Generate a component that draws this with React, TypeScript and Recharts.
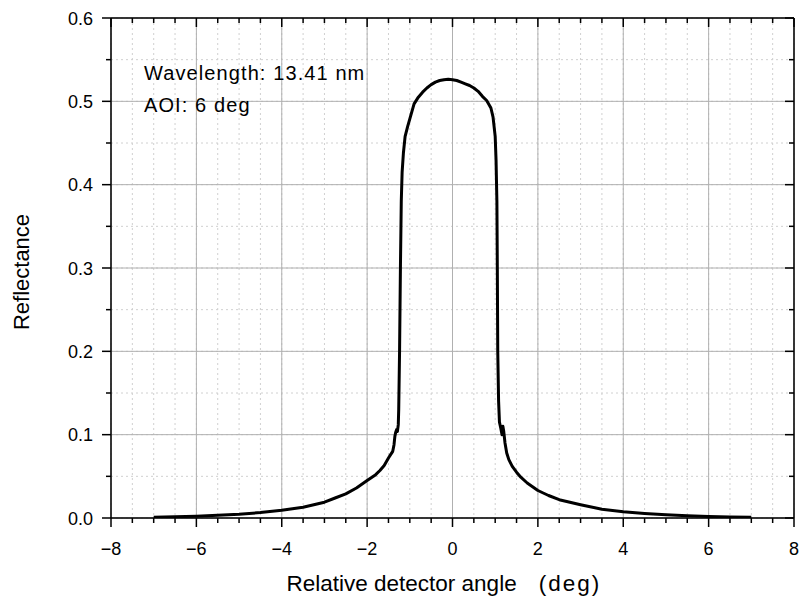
import React from 'react';
import { LineChart, Line, XAxis, YAxis, CartesianGrid } from 'recharts';

// relative detector angle (deg)
const angle = [
  -7.0, -6.5, -6.0, -5.5, -5.0, -4.5, -4.0, -3.5, -3.0, -2.75, -2.5, -2.25, -2.0, -1.8, -1.7,
  -1.6, -1.5, -1.45, -1.4, -1.37, -1.35, -1.33, -1.31, -1.29, -1.27, -1.26, -1.24, -1.22,
  -1.2, -1.18, -1.15, -1.11, -1.05, -1.0, -0.95, -0.9, -0.8, -0.7, -0.6, -0.5, -0.4, -0.3,
  -0.2, -0.1, 0.0, 0.1, 0.2, 0.3, 0.4, 0.5, 0.6, 0.7, 0.8, 0.9, 0.95, 1.0, 1.02, 1.04, 1.05,
  1.06, 1.08, 1.1, 1.13, 1.16, 1.18, 1.2, 1.23, 1.27, 1.32, 1.4, 1.5, 1.6, 1.75, 2.0, 2.25,
  2.5, 2.75, 3.0, 3.5, 4.0, 4.5, 5.0, 5.5, 6.0, 6.5, 7.0,
];

// measured reflectance
const reflectance = [
  0.001, 0.0015, 0.0022, 0.0032, 0.0045, 0.0065, 0.0092, 0.013, 0.019, 0.024, 0.029, 0.036,
  0.045, 0.052, 0.057, 0.063, 0.072, 0.076, 0.08, 0.088, 0.098, 0.103, 0.106, 0.104, 0.112,
  0.13, 0.2, 0.3, 0.38, 0.415, 0.438, 0.458, 0.47, 0.479, 0.488, 0.497, 0.505, 0.511, 0.516,
  0.52, 0.523, 0.525, 0.526, 0.5265, 0.526, 0.525, 0.523, 0.521, 0.519, 0.516, 0.512, 0.506,
  0.501, 0.492, 0.481, 0.458, 0.43, 0.38, 0.3, 0.2, 0.14, 0.115, 0.108, 0.1, 0.11, 0.104,
  0.09, 0.078, 0.07, 0.062, 0.055, 0.049, 0.042, 0.033, 0.027, 0.022, 0.019, 0.016, 0.0105,
  0.0075, 0.0054, 0.0038, 0.0027, 0.0019, 0.0013, 0.0009,
];

const majorX = [-8, -6, -4, -2, 0, 2, 4, 6, 8];
const minorX = [
  -8, -7.5, -7, -6.5, -6, -5.5, -5, -4.5, -4, -3.5, -3, -2.5, -2, -1.5, -1, -0.5, 0,
  0.5, 1, 1.5, 2, 2.5, 3, 3.5, 4, 4.5, 5, 5.5, 6, 6.5, 7, 7.5, 8,
];
const majorY = [0, 0.1, 0.2, 0.3, 0.4, 0.5, 0.6];
const minorY = [0, 0.05, 0.1, 0.15, 0.2, 0.25, 0.3, 0.35, 0.4, 0.45, 0.5, 0.55, 0.6];

const annotation = ['Wavelength: 13.41 nm', 'AOI: 6 deg'];

const data = angle.map((a, i) => ({ angle: a, r: reflectance[i] }));

const FONT = '"Liberation Sans", Arial, sans-serif';
const MAJOR_LEN = 9;
const MINOR_LEN = 5;

const fmtX = (v: number) => (v < 0 ? `\u2212${Math.abs(v)}` : `${v}`);

function BottomTick({ x, y, payload }: any) {
  const major = majorX.includes(payload.value);
  return (
    <g>
      <line x1={x} x2={x} y1={y} y2={y + (major ? MAJOR_LEN : MINOR_LEN)} stroke="#000" strokeWidth={1.5} />
      {major && (
        <text x={x} y={y + 37} textAnchor="middle" fontSize={18} fontFamily={FONT} fill="#000">
          {fmtX(payload.value)}
        </text>
      )}
    </g>
  );
}

function TopTick({ x, y, payload }: any) {
  const major = majorX.includes(payload.value);
  return <line x1={x} x2={x} y1={y} y2={y + (major ? MAJOR_LEN : MINOR_LEN)} stroke="#000" strokeWidth={1.5} />;
}

function LeftTick({ x, y, payload }: any) {
  const major = majorY.includes(payload.value);
  return (
    <g>
      <line x1={x - (major ? MAJOR_LEN : MINOR_LEN)} x2={x} y1={y} y2={y} stroke="#000" strokeWidth={1.5} />
      {major && (
        <text x={x - 18} y={y + 6.5} textAnchor="end" fontSize={18} fontFamily={FONT} fill="#000">
          {payload.value.toFixed(1)}
        </text>
      )}
    </g>
  );
}

function RightTick({ x, y, payload }: any) {
  const major = majorY.includes(payload.value);
  return <line x1={x - (major ? MAJOR_LEN : MINOR_LEN)} x2={x} y1={y} y2={y} stroke="#000" strokeWidth={1.5} />;
}

export default function App() {
  return (
    <div style={{ position: 'absolute', left: 0, top: 0, width: 803, height: 600, background: '#fff' }}>
      <LineChart width={803} height={600} data={data} margin={{ top: 17, right: 8, bottom: 81, left: 110 }}>
        <XAxis
          xAxisId="bottom"
          dataKey="angle"
          type="number"
          domain={[-8, 8]}
          allowDataOverflow
          ticks={minorX}
          interval={0}
          height={1}
          tickSize={0}
          tickMargin={0}
          tickLine={false}
          tick={<BottomTick />}
          axisLine={{ stroke: '#000', strokeWidth: 1.5 }}
          label={(p: any) => {
            const vb = p.viewBox;
            return (
              <text x={vb.x + vb.width / 2 - 166} y={vb.y + 73} fontSize={22.5} fontFamily={FONT} fill="#000">
                Relative detector angle
                <tspan dx={22} letterSpacing={2}>(deg)</tspan>
              </text>
            );
          }}
        />
        <XAxis
          xAxisId="top"
          orientation="top"
          dataKey="angle"
          type="number"
          domain={[-8, 8]}
          allowDataOverflow
          ticks={minorX}
          interval={0}
          height={1}
          tickSize={0}
          tickMargin={0}
          tickLine={false}
          tick={<TopTick />}
          axisLine={{ stroke: '#000', strokeWidth: 1.5 }}
        />
        <XAxis xAxisId="zMajor" dataKey="angle" type="number" domain={[-8, 8]} allowDataOverflow ticks={majorX} height={0} hide />
        <YAxis
          yAxisId="left"
          dataKey="r"
          type="number"
          domain={[0, 0.6]}
          allowDataOverflow
          ticks={minorY}
          interval={0}
          width={1}
          tickSize={0}
          tickMargin={0}
          tickLine={false}
          tick={<LeftTick />}
          axisLine={{ stroke: '#000', strokeWidth: 1.5 }}
          label={(p: any) => {
            const vb = p.viewBox;
            const cx = vb.x + vb.width - 90;
            const cy = vb.y + vb.height / 2 + 4;
            return (
              <text
                transform={`translate(${cx}, ${cy}) rotate(-90)`}
                textAnchor="middle"
                dominantBaseline="central"
                fontSize={22}
                fontFamily={FONT}
                fill="#000"
              >
                Reflectance
              </text>
            );
          }}
        />
        <YAxis
          yAxisId="right"
          orientation="right"
          dataKey="r"
          type="number"
          domain={[0, 0.6]}
          allowDataOverflow
          ticks={minorY}
          interval={0}
          width={1}
          tickSize={0}
          tickMargin={0}
          tickLine={false}
          tick={<RightTick />}
          axisLine={{ stroke: '#000', strokeWidth: 1.5 }}
        />
        <YAxis yAxisId="zMajor" dataKey="r" type="number" domain={[0, 0.6]} allowDataOverflow ticks={majorY} width={0} hide />
        <CartesianGrid xAxisId="bottom" yAxisId="left" stroke="#d0d0d0" strokeDasharray="2 3" />
        <CartesianGrid xAxisId="zMajor" yAxisId="zMajor" stroke="#b0b0b0" />
        <Line
          xAxisId="bottom"
          yAxisId="left"
          dataKey="r"
          type="linear"
          stroke="#000"
          strokeWidth={3}
          strokeLinejoin="round"
          dot={false}
          activeDot={false}
          isAnimationActive={false}
        />
      </LineChart>
      <div
        style={{
          position: 'absolute',
          left: 144,
          top: 57,
          fontFamily: FONT,
          fontSize: 20,
          letterSpacing: 1.1,
          lineHeight: '32px',
          color: '#000',
          whiteSpace: 'nowrap',
        }}
      >
        {annotation.map((t) => (
          <div key={t}>{t}</div>
        ))}
      </div>
    </div>
  );
}
